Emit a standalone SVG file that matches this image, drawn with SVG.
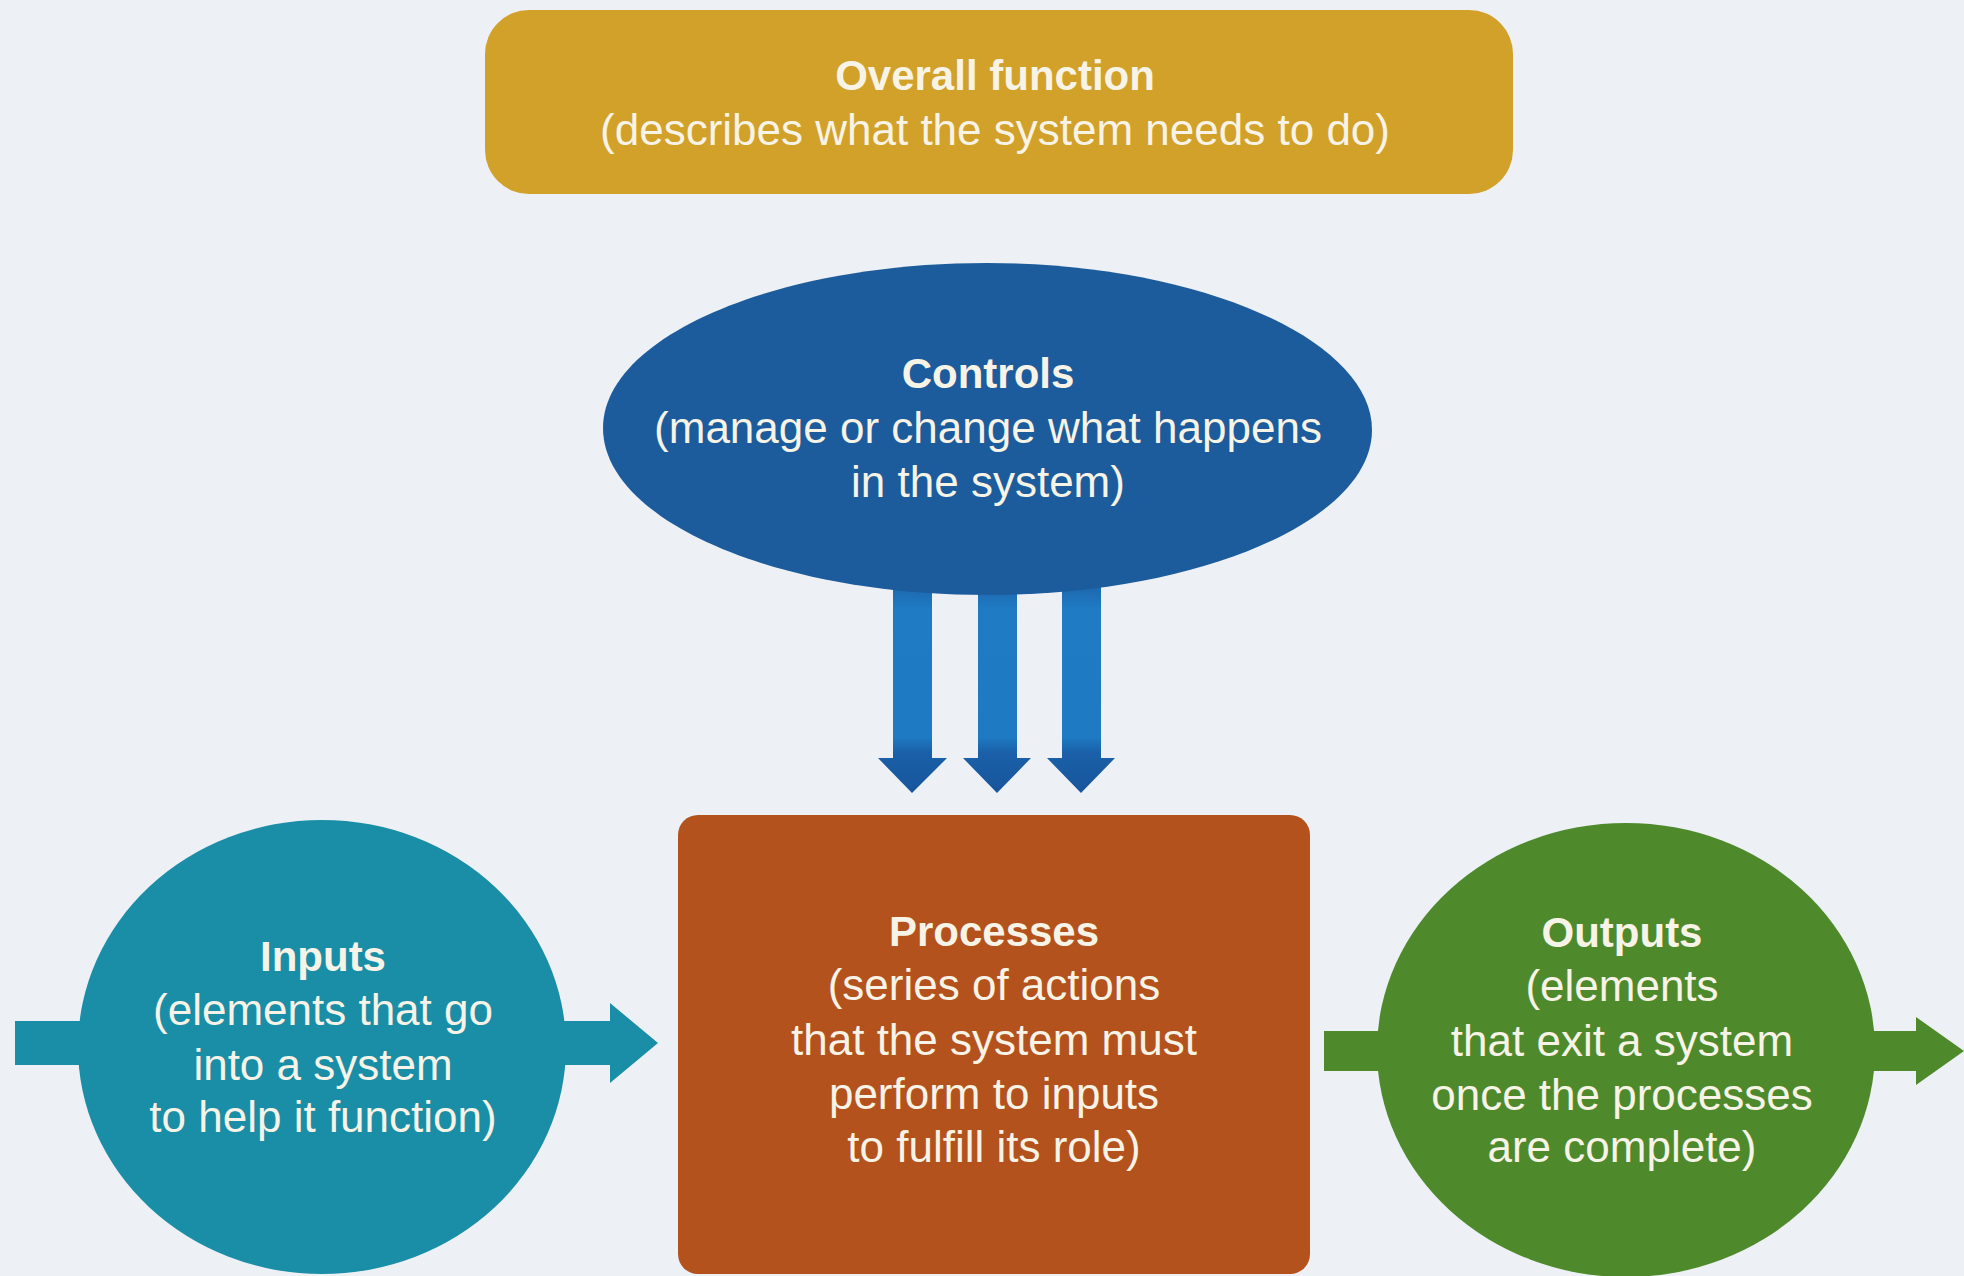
<svg xmlns="http://www.w3.org/2000/svg" width="1964" height="1276" viewBox="0 0 1964 1276">
  <defs>
    <linearGradient id="ctrlArrow" x1="0" y1="0" x2="0" y2="1">
      <stop offset="0" stop-color="#1a5a9e"/>
      <stop offset="0.18" stop-color="#1f7cc4"/>
      <stop offset="0.75" stop-color="#1e7ac2"/>
      <stop offset="0.82" stop-color="#1a60a8"/>
      <stop offset="1" stop-color="#17559c"/>
    </linearGradient>
    <style>
      .lbl { font-family: "Liberation Sans", Arial, sans-serif; fill: #f7f3e6; text-anchor: middle; font-size: 44px; }
      .ttl { font-weight: bold; font-size: 42px; }
      .overall { fill: #d2a12a; }
      .controls { fill: #1c5c9c; }
      .processes { fill: #b3521d; }
      .inputs { fill: #1a8ea6; }
      .outputs { fill: #4e8a2c; }
      .ctrl-arrow { fill: url(#ctrlArrow); }
    </style>
  </defs>

  <rect width="1964" height="1276" fill="#edf0f5"/>

  <!-- connectors: flow arrows -->
  <g id="connectors">
    <!-- input flow, passing behind the inputs circle -->
    <path class="inputs" d="M15 1021 H610 V1003 L658 1043 L610 1083 V1065 H15 Z"/>
    <!-- output flow, passing behind the outputs circle -->
    <path class="outputs" d="M1324 1031 H1916 V1017 L1964 1051 L1916 1085 V1071 H1324 Z"/>
    <!-- control arrows down into processes -->
    <path class="ctrl-arrow" d="M893 570 H932 V758 H947 L912 793 L878 758 H893 Z"/>
    <path class="ctrl-arrow" d="M978 570 H1017 V758 H1031 L997 793 L963 758 H978 Z"/>
    <path class="ctrl-arrow" d="M1062 570 H1101 V758 H1115 L1081 793 L1047 758 H1062 Z"/>
  </g>

  <g id="overall-function">
    <rect class="overall" x="485" y="10" width="1028" height="184" rx="44" ry="44"/>
    <text class="lbl ttl" x="995" y="90">Overall function</text>
    <text class="lbl" x="995" y="145">(describes what the system needs to do)</text>
  </g>

  <g id="controls">
    <path class="controls" d="M987 263 C1200 263 1372 340 1372 430 C1372 520 1200 595 987 595 C775 595 603 520 603 428 C603 337 775 263 987 263 Z"/>
    <text class="lbl ttl" x="988" y="388">Controls</text>
    <text class="lbl" x="988" y="443">(manage or change what happens</text>
    <text class="lbl" x="988" y="497">in the system)</text>
  </g>

  <g id="processes">
    <rect class="processes" x="678" y="815" width="632" height="459" rx="20" ry="20"/>
    <text class="lbl ttl" x="994" y="946">Processes</text>
    <text class="lbl" x="994" y="1000">(series of actions</text>
    <text class="lbl" x="994" y="1055">that the system must</text>
    <text class="lbl" x="994" y="1109">perform to inputs</text>
    <text class="lbl" x="994" y="1162">to fulfill its role)</text>
  </g>

  <g id="inputs">
    <ellipse class="inputs" cx="322" cy="1047" rx="244" ry="227"/>
    <text class="lbl ttl" x="323" y="971">Inputs</text>
    <text class="lbl" x="323" y="1025">(elements that go</text>
    <text class="lbl" x="323" y="1080">into a system</text>
    <text class="lbl" x="323" y="1132">to help it function)</text>
  </g>

  <g id="outputs">
    <ellipse class="outputs" cx="1626" cy="1050" rx="249" ry="227"/>
    <text class="lbl ttl" x="1622" y="947">Outputs</text>
    <text class="lbl" x="1622" y="1001">(elements</text>
    <text class="lbl" x="1622" y="1056">that exit a system</text>
    <text class="lbl" x="1622" y="1110">once the processes</text>
    <text class="lbl" x="1622" y="1162">are complete)</text>
  </g>
</svg>
